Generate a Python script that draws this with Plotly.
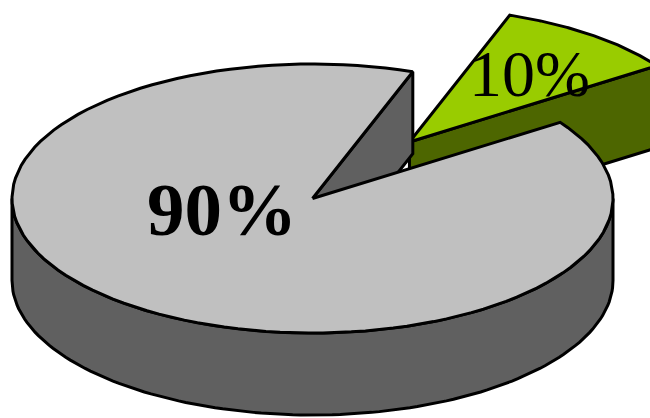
import numpy as np
import plotly.graph_objects as go

# ---- data -------------------------------------------------------------
values = [90, 10]
top_colors = ["#C0C0C0", "#99CC00"]
side_colors = ["#606060", "#4D6600"]
pulls = [0.0, 0.53]
label_bold = [True, False]
label_sizes = [75, 66]
label_pos = [(221.5, 209), (529, 73)]

# ---- 3-D pie geometry (pixel space of the canvas) ----------------------
W, H = 650, 418
CX, CY = 312.5, 198.5      # centre of the top ellipse
RX, RY = 300.5, 134.5      # ellipse radii
DEPTH = 82                 # thickness of the disc
START = 55.5               # degrees, clockwise from 12 o'clock


def pt(theta, dx=0.0, dy=0.0, z=0.0):
    t = np.radians(theta)
    return CX + dx + RX * np.sin(t), CY + dy - RY * np.cos(t) + z


def arc(a0, a1, dx, dy, z=0.0, n=120):
    th = np.linspace(a0, a1, n)
    xs, ys = pt(th, dx, dy, z)
    return list(xs), list(ys)


def poly(xs, ys, fill):
    return go.Scatter(
        x=xs + [xs[0]], y=ys + [ys[0]], mode="lines", fill="toself",
        fillcolor=fill, line=dict(color="black", width=3),
        hoverinfo="skip", showlegend=False,
    )


total = sum(values)
slices = []
a = START
for i, v in enumerate(values):
    span = 360.0 * v / total
    a0, a1 = a, a + span
    mid = np.radians((a0 + a1) / 2)
    dx = pulls[i] * RX * np.sin(mid)
    dy = -pulls[i] * RY * np.cos(mid)
    slices.append(dict(i=i, a0=a0, a1=a1, dx=dx, dy=dy, depth=np.cos(mid)))
    a = a1

# back slices first
slices.sort(key=lambda s: -s["depth"])

traces = []
for s in slices:
    i, a0, a1, dx, dy = s["i"], s["a0"], s["a1"], s["dx"], s["dy"]
    ax, ay = CX + dx, CY + dy

    # cut faces that face the viewer
    for edge, visible in ((a0, -np.sin(np.radians(a0)) > 0),
                          (a1, np.sin(np.radians(a1)) > 0)):
        if visible:
            rx0, ry0 = pt(edge, dx, dy)
            traces.append(poly([ax, rx0, rx0, ax],
                               [ay, ry0, ry0 + DEPTH, ay + DEPTH],
                               side_colors[i]))

    # front part of the outer wall
    for k in (-1, 0, 1):
        lo = max(a0, 90 + 360 * k)
        hi = min(a1, 270 + 360 * k)
        if hi > lo:
            tx, ty = arc(lo, hi, dx, dy)
            bx, by = arc(hi, lo, dx, dy, DEPTH)
            traces.append(poly(tx + bx, ty + by, side_colors[i]))

    # top face
    tx, ty = arc(a0, a1, dx, dy)
    traces.append(poly([ax] + tx, [ay] + ty, top_colors[i]))

fig = go.Figure(traces)

for i, v in enumerate(values):
    txt = f"{v}%"
    if label_bold[i]:
        txt = f"<b>{txt}</b>"
    fig.add_annotation(
        x=label_pos[i][0], y=label_pos[i][1], text=txt, showarrow=False,
        xanchor="center", yanchor="middle",
        font=dict(family="Liberation Serif", size=label_sizes[i], color="black"),
    )

fig.update_layout(
    width=W, height=H, margin=dict(l=0, r=0, t=0, b=0),
    paper_bgcolor="white", plot_bgcolor="white",
    xaxis=dict(range=[0, W], visible=False, fixedrange=True),
    yaxis=dict(range=[H, 0], visible=False, fixedrange=True),
    showlegend=False,
)

fig.write_html("out.html")
